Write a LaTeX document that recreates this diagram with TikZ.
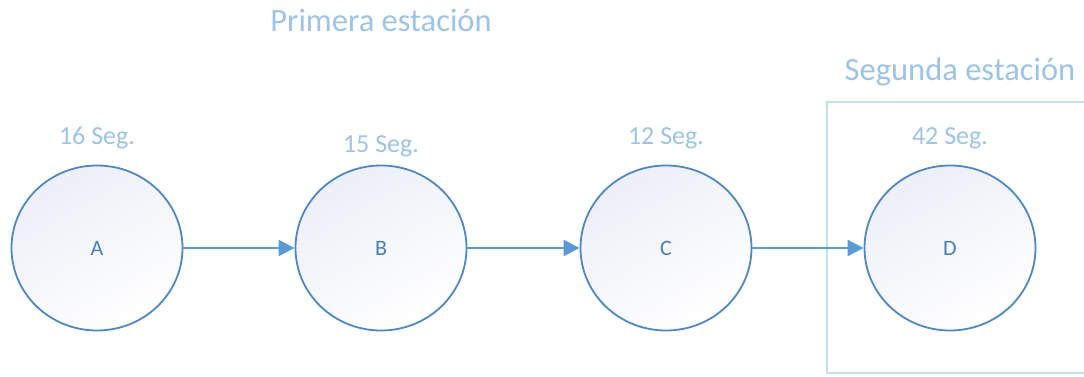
\documentclass[tikz,border=0pt]{standalone}
\usepackage{fontspec}
\setmainfont{Carlito}
\usetikzlibrary{arrows.meta,shapes.geometric}
\definecolor{ringc}{HTML}{4F87C2}
\definecolor{arrowc}{HTML}{5B9BD5}
\definecolor{lblc}{HTML}{9DC3E6}
\definecolor{txtc}{HTML}{4A7DBA}
\definecolor{boxc}{HTML}{C9DDF1}
\definecolor{fillc}{HTML}{ECEFF7}
\begin{document}
\begin{tikzpicture}[x=1pt,y=-1pt,
  station/.style={ellipse,draw=ringc,line width=1.8pt,minimum width=171pt,minimum height=165pt,
    inner sep=0pt,top color=fillc,bottom color=white,shading angle=30,text=txtc,font=\fontsize{22}{26}\selectfont},
  timelbl/.style={text=lblc,font=\fontsize{26}{30}\selectfont,inner sep=0pt},
  titlelbl/.style={text=lblc,font=\fontsize{32.5}{38}\selectfont,inner sep=0pt},
  flow/.style={draw=arrowc,line width=2pt,-{Triangle[length=16pt,width=16pt]}}]
\useasboundingbox (0,0) rectangle (1084,377);
\draw[boxc,line width=1.2pt] (1084,102) -- (827,102) -- (827,373) -- (1084,373);
\node[station] (A) at (97,248) {A};
\node[station] (B) at (381,248) {B};
\node[station] (C) at (666,248) {C};
\node[station] (D) at (950,248) {D};
\draw[flow] (A) -- (B);
\draw[flow] (B) -- (C);
\draw[flow] (C) -- (D);
\node[timelbl] (tA) at (97,138) {16 Seg.};
\node[timelbl] (tB) at (381,146) {15 Seg.};
\node[timelbl] (tC) at (666,138) {12 Seg.};
\node[timelbl] (tD) at (950,138) {42 Seg.};
\node[titlelbl] (t1) at (381,20) {Primera estación};
\node[titlelbl] (t2) at (960,72) {Segunda estación};
\end{tikzpicture}
\end{document}
